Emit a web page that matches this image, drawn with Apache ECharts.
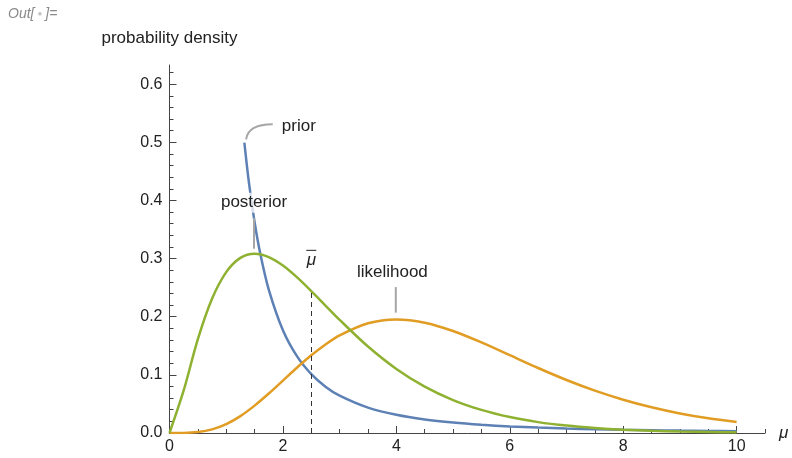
<!DOCTYPE html>
<html>
<head>
<meta charset="utf-8">
<script src="https://cdn.jsdelivr.net/npm/echarts@6/dist/echarts.min.js"></script>
<style>
  html, body { margin: 0; padding: 0; background: #fff; }
  #chart { width: 792px; height: 458px; }
</style>
</head>
<body>
<div id="chart"></div>
<script>
// values
var curveX = [0, 0.25, 0.5, 0.75, 1, 1.25, 1.5, 1.75, 2, 2.25, 2.5, 2.75, 3, 3.5, 4, 4.5, 5,
  5.5, 6, 6.5, 7, 7.5, 8, 8.5, 9, 9.5, 10];
var posterior = [0, 0.0732, 0.1613, 0.2308, 0.2767, 0.3012, 0.3084, 0.3026, 0.288, 0.2676, 0.2441,
  0.2193, 0.1946, 0.1487, 0.1102, 0.0798, 0.0567, 0.0397, 0.0274, 0.0187, 0.0127, 0.0086,
  0.0057, 0.0038, 0.0025, 0.0017, 0.0011];
var likelihood = [0, 0.0001, 0.0016, 0.0062, 0.0153, 0.0291, 0.0471, 0.0679, 0.0902, 0.1126, 0.1336,
  0.1523, 0.168, 0.1888, 0.1954, 0.1898, 0.1755, 0.1558, 0.1339, 0.1118, 0.0912, 0.0729,
  0.0573, 0.0443, 0.0337, 0.0254, 0.0189];
var priorX = [1.32, 1.4, 1.5, 1.6, 1.75, 2, 2.25, 2.5, 2.75, 3, 3.5, 4, 4.5, 5, 5.5, 6, 6.5, 7,
  7.5, 8, 8.5, 9, 9.5, 10];
var prior = [0.4995, 0.4312, 0.3629, 0.3088, 0.2468, 0.1768, 0.1317, 0.1012, 0.0797, 0.0642,
  0.0436, 0.0313, 0.0233, 0.0179, 0.0141, 0.0113, 0.0093, 0.0077, 0.0065, 0.0055, 0.0048,
  0.0041, 0.0036, 0.0032];
var meanMu = 2.5;
var meanPosterior = 0.2441;

var xMajor = [0, 2, 4, 6, 8, 10];
var xMinor = [0.5, 1, 1.5, 2.5, 3, 3.5, 4.5, 5, 5.5, 6.5, 7, 7.5, 8.5, 9, 9.5, 10.5];
var yMajor = [0, 0.1, 0.2, 0.3, 0.4, 0.5, 0.6];
var yMinor = [0.02, 0.04, 0.06, 0.08, 0.12, 0.14, 0.16, 0.18, 0.22, 0.24, 0.26, 0.28,
  0.32, 0.34, 0.36, 0.38, 0.42, 0.44, 0.46, 0.48, 0.52, 0.54, 0.56, 0.58, 0.62];

function pairs(xs, ys) {
  return xs.map(function (x, i) { return [x, ys[i]]; });
}

var axisColor = "#444";
var font = "Liberation Sans, Arial, sans-serif";

var chart = echarts.init(document.getElementById("chart"), null, { renderer: "canvas" });

var option = {
  animation: false,
  grid: { left: 169.5, right: 27, top: 65, bottom: 25 },
  xAxis: [
    {
      type: "value",
      min: 0,
      max: 10.5,
      name: "μ",
      nameGap: 14,
      nameTextStyle: { fontFamily: font, fontSize: 17, fontStyle: "italic", color: "#222" },
      axisLine: { lineStyle: { color: axisColor, width: 1 } },
      axisTick: { inside: true, length: 7, customValues: xMajor, lineStyle: { color: axisColor } },
      axisLabel: {
        customValues: xMajor,
        margin: 6,
        fontFamily: font,
        fontSize: 16,
        color: "#222"
      },
      splitLine: { show: false }
    },
    {
      type: "value",
      min: 0,
      max: 10.5,
      position: "bottom",
      axisLine: { show: false },
      axisTick: { inside: true, length: 4, customValues: xMinor, lineStyle: { color: axisColor } },
      axisLabel: { show: false },
      splitLine: { show: false }
    }
  ],
  yAxis: [
    {
      type: "value",
      min: 0,
      max: 0.633,
      name: "probability density",
      nameGap: 18,
      nameTextStyle: { fontFamily: font, fontSize: 17, color: "#222", align: "center" },
      axisLine: { show: true, lineStyle: { color: axisColor, width: 1 } },
      axisTick: { show: true, inside: true, length: 7, customValues: yMajor, lineStyle: { color: axisColor } },
      axisLabel: {
        customValues: yMajor,
        margin: 7,
        fontFamily: font,
        fontSize: 16,
        color: "#222",
        formatter: function (v) { return v.toFixed(1); }
      },
      splitLine: { show: false }
    },
    {
      type: "value",
      min: 0,
      max: 0.633,
      position: "left",
      axisLine: { show: false },
      axisTick: { show: true, inside: true, length: 4, customValues: yMinor, lineStyle: { color: axisColor } },
      axisLabel: { show: false },
      splitLine: { show: false }
    }
  ],
  series: [
    {
      name: "prior",
      type: "line",
      data: pairs(priorX, prior),
      smooth: 0.3,
      showSymbol: false,
      lineStyle: { color: "#5E81B5", width: 2.5 },
      z: 2
    },
    {
      name: "likelihood",
      type: "line",
      data: pairs(curveX, likelihood),
      smooth: 0.3,
      showSymbol: false,
      lineStyle: { color: "#E19C24", width: 2.5 },
      z: 3
    },
    {
      name: "posterior",
      type: "line",
      data: pairs(curveX, posterior),
      smooth: 0.3,
      showSymbol: false,
      lineStyle: { color: "#8FB131", width: 2.5 },
      z: 4,
      markLine: {
        silent: true,
        symbol: "none",
        label: { show: false },
        lineStyle: { color: "#333", type: [5, 4], width: 1 },
        data: [[{ coord: [meanMu, 0] }, { coord: [meanMu, meanPosterior] }]]
      }
    }
  ]
};

chart.setOption(option);

// labels and leader lines, placed in data coordinates
function px(x, y) {
  return chart.convertToPixel({ gridIndex: 0 }, [x, y]);
}

var leaderStyle = { stroke: "#A6A6A6", lineWidth: 2 };
var labelStyle = { fontFamily: font, fontSize: 17, fill: "#222", align: "center", verticalAlign: "middle" };

var pPriorA = px(1.35, 0.505);
var pPriorB = px(1.82, 0.531);
var pPriorText = px(2.28, 0.527);
var pPostText = px(1.49, 0.396);
var pPostA = px(1.49, 0.37);
var pPostB = px(1.49, 0.317);
var pMu = px(2.5, 0.297);
var pLikeText = px(3.93, 0.276);
var pLikeA = px(3.99, 0.251);
var pLikeB = px(3.99, 0.207);

chart.setOption({
  graphic: [
    {
      type: "text",
      left: 8,
      top: 7,
      style: {
        text: "Out[{d|●}]=",
        fontFamily: font,
        fontSize: 14,
        fontStyle: "italic",
        fill: "#8a8a8a",
        rich: { d: { fontSize: 8, fill: "#c4c4c4", padding: [0, 3, 0, 3] } }
      }
    },
    {
      type: "bezierCurve",
      z: 100,
      shape: {
        x1: pPriorA[0], y1: pPriorA[1],
        x2: pPriorB[0], y2: pPriorB[1],
        cpx1: pPriorA[0] + 2, cpy1: pPriorB[1]
      },
      style: leaderStyle
    },
    {
      type: "text",
      z: 100,
      x: pPriorText[0],
      y: pPriorText[1],
      style: Object.assign({ text: "prior" }, labelStyle)
    },
    {
      type: "line",
      z: 100,
      shape: { x1: pPostA[0], y1: pPostA[1], x2: pPostB[0], y2: pPostB[1] },
      style: leaderStyle
    },
    {
      type: "text",
      z: 100,
      x: pPostText[0],
      y: pPostText[1],
      style: Object.assign({ text: "posterior", backgroundColor: "rgba(255,255,255,0.75)", padding: [2, 0, 1, 0] }, labelStyle)
    },
    {
      type: "text",
      z: 100,
      x: pMu[0],
      y: pMu[1],
      style: Object.assign({ text: "μ", fontStyle: "italic" }, labelStyle)
    },
    {
      type: "line",
      z: 100,
      shape: { x1: pMu[0] - 5, y1: pMu[1] - 10, x2: pMu[0] + 5, y2: pMu[1] - 10 },
      style: { stroke: "#222", lineWidth: 1 }
    },
    {
      type: "text",
      z: 100,
      x: pLikeText[0],
      y: pLikeText[1],
      style: Object.assign({ text: "likelihood" }, labelStyle)
    },
    {
      type: "line",
      z: 100,
      shape: { x1: pLikeA[0], y1: pLikeA[1], x2: pLikeB[0], y2: pLikeB[1] },
      style: leaderStyle
    }
  ]
});
</script>
</body>
</html>
